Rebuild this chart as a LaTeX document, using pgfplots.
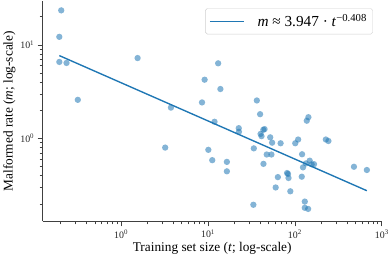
\documentclass[border=0pt]{standalone}
\usepackage{pgfplots}
\pgfplotsset{compat=1.18}
\usepackage{fontspec}
\setmainfont{Liberation Serif}
\definecolor{mplblue}{HTML}{1F77B4}
\definecolor{spine}{HTML}{404040}
\begin{document}
\begin{tikzpicture}
\begin{axis}[
  scale only axis, width=344pt, height=224pt,
  xmode=log, ymode=log,
  xmin=0.125, xmax=1000, ymin=0.13, ymax=29.8,
  axis x line*=bottom, axis y line*=left,
  axis line style={spine, line width=1.1pt},
  tick align=outside,
  major tick length=5pt, minor tick length=3pt,
  every tick/.style={spine, line width=0.7pt},
  xtick={1,10,100,1000},
  xticklabels={10\textsuperscript{0},10\textsuperscript{1},10\textsuperscript{2},10\textsuperscript{3}},
  minor xtick={0.2,0.3,0.4,0.5,0.6,0.7,0.8,0.9,2,3,4,5,6,7,8,9,20,30,40,50,60,70,80,90,200,300,400,500,600,700,800,900},
  ytick={1,10},
  yticklabels={10\textsuperscript{0},10\textsuperscript{1}},
  minor ytick={0.2,0.3,0.4,0.5,0.6,0.7,0.8,0.9,2,3,4,5,6,7,8,9,20},
  ticklabel style={font=\fontsize{10}{12}\selectfont, text=black!85},
  xlabel={Training set size (\textit{t}; log-scale)},
  ylabel={Malformed rate (\textit{m}; log-scale)},
  label style={font=\fontsize{13.5}{15}\selectfont},
  xlabel style={yshift=3pt},
  ylabel style={yshift=-2pt},
  legend style={at={(0.974,0.965)}, anchor=north east, draw=black!18, rounded corners=2pt,
    font=\fontsize{15.5}{18}\selectfont, inner xsep=4pt, inner ysep=4pt},
  legend cell align=left,
]
\addplot[only marks, mark=*, mark size=3.2pt,
  mark options={fill=mplblue, draw=mplblue, fill opacity=0.55, draw opacity=0.0}, forget plot]
coordinates {
(0.205,23.4) (0.195,12.2) (0.195,6.58) (0.236,6.42) (0.318,2.59)
(1.55,7.24) (3.22,0.80) (3.75,2.14) (8.54,2.43) (9.15,4.25)
(10.1,0.757) (11.2,0.587) (11.9,1.51) (13.1,6.36) (13.9,3.38)
(16.5,0.563) (16.5,0.446) (22.6,1.29) (22.7,1.18) (33.3,0.196)
(33.7,0.785) (36.5,2.55) (39.8,1.82) (43.3,1.24) (44.8,1.26)
(40.3,1.12) (41.3,1.06) (52.0,1.03) (54.7,0.903) (47.4,0.675)
(53.7,0.675) (43.5,0.536) (63.7,0.387) (60.1,0.300) (68.5,0.890)
(109,0.976) (101,0.890) (143,1.69) (137,1.55) (227,0.976)
(243,0.941) (121,0.679) (148,0.580) (134,0.542) (124,0.492)
(166,0.532) (156,0.530) (478,0.499) (673,0.461) (81.3,0.428)
(83.4,0.418) (84.5,0.379) (120,0.391) (88.6,0.273) (130,0.212)
(130,0.182) (142,0.177)
};
\addplot[mplblue, line width=1.4pt,
  legend image code/.code={\draw[mplblue, line width=1.4pt] (0cm,0cm) -- (1.2cm,0cm);}]
coordinates {(0.195,7.69) (673,0.277)};
\addlegendentry{\hspace{0.4cm}\textit{m} ≈ 3.947 · \textit{t}\textsuperscript{−0.408}}
\end{axis}
\end{tikzpicture}
\end{document}
